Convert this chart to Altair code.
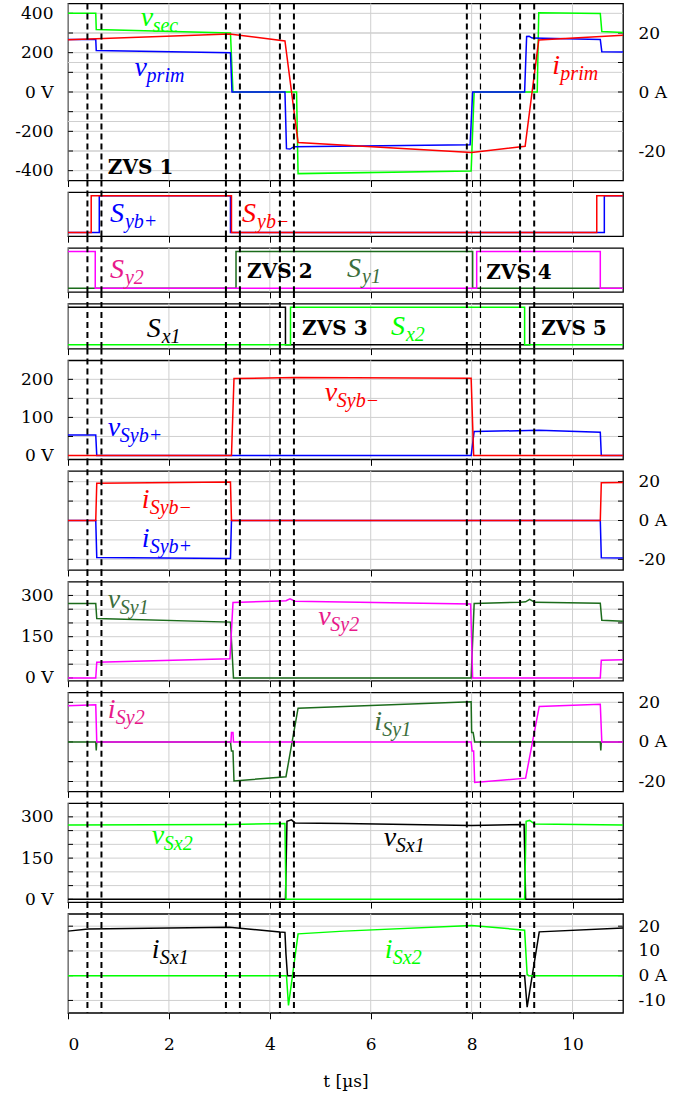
import altair as alt
import pandas as pd

W = 555
H = [177, 44, 44, 45, 99, 99, 99, 99, 99, 99]
GAP = 11.7

GREEN, BLUE, RED, MAG, DGREEN, BLACK = "#00ff00", "#0000ff", "#ff0000", "#ff00ff", "#1b6b1b", "#000000"
MAG_T, DG_T = "#e8198b", "#3c6e3c"
GRID = "#cfcfcf"
NUM_FONT = "DejaVu Serif"
MATH_FONT = "Liberation Serif"

x_ticks = [0, 2, 4, 6, 8, 10]
dash_t = [0.385, 0.663, 3.13, 3.407, 4.2, 4.478, 7.905, 8.96, 9.24]
thin_dash_t = [8.175]

# ---- panel 1 : primary / secondary voltage and primary current
vsec_t = [0, 0.55, 0.56, 3.22, 3.27, 4.53, 4.56, 7.99, 8.05, 9.30, 9.33, 10.55, 10.58, 11]
vsec_v = [400, 400, 318, 300, 0, 0, -415, -402, 0, 0, 403, 399, 308, 303]
vprim_t = [0, 0.55, 0.56, 3.22, 3.25, 4.30, 4.33, 4.40, 4.48, 7.97, 8.02, 9.05, 9.09, 9.14, 9.20, 10.55, 10.58, 11]
vprim_v = [267, 267, 211, 200, 0, 0, -288, -290, -278, -268, 0, 0, 282, 283, 274, 267, 205, 204]
iprim_t = [0, 3.2, 4.3, 4.56, 8.0, 9.06, 9.33, 11]
iprim_v = [17.7, 19.7, 17.3, -17.1, -20.5, -18.4, 17.6, 19.2]

# ---- panels 2-4 : gate signals
sybp_t = [0, 0.62, 0.62, 3.22, 3.22, 10.63, 10.63, 11]
sybp_v = [0, 0, 1, 1, 0, 0, 1, 1]
sybm_t = [0, 0.46, 0.46, 3.24, 3.24, 10.48, 10.48, 11]
sybm_v = [0, 0, 1, 1, 0, 0, 1, 1]
sy1_t = [0, 3.33, 3.33, 8.02, 8.02, 11]
sy1_v = [0, 0, 1, 1, 0, 0]
sy2_t = [0, 0.54, 0.54, 8.10, 8.10, 10.55, 10.55, 11]
sy2_v = [1, 1, 0, 0, 1, 1, 0, 0]
sx1_t = [0, 4.31, 4.31, 9.15, 9.15, 11]
sx1_v = [1, 1, 0, 0, 1, 1]
sx2_t = [0, 4.41, 4.41, 9.05, 9.05, 11]
sx2_v = [0, 0, 1, 1, 0, 0]

# ---- panel 5 : v_Syb
vsybp_t = [0, 0.55, 0.57, 7.99, 8.05, 9.33, 10.55, 10.57, 11]
vsybp_v = [54, 54, 0, 0, 63, 66, 61, 0, 0]
vsybm_t = [0, 3.24, 3.29, 4.5, 7.99, 8.04, 11]
vsybm_v = [0, 0, 202, 205, 203, 0, 0]

# ---- panel 6 : i_Syb
isyb_t = [0, 0.55, 0.57, 3.22, 3.24, 10.55, 10.57, 11]
isybp_v = [0, 0, -19, -19.6, 0, 0, -19.2, -19.3]
isybm_v = [0, 0, 19.2, 19.8, 0, 0, 19.5, 19.6]

# ---- panel 7 : v_Sy
vsy1_t = [0, 0.55, 0.57, 3.22, 3.28, 7.99, 8.05, 8.96, 9.07, 9.15, 9.25, 10.55, 10.58, 11]
vsy1_v = [271, 271, 216, 203, 0, 0, 271, 275, 277, 286, 275, 272, 210, 206]
vsy2_t = [0, 0.55, 0.57, 3.21, 3.27, 4.2, 4.32, 4.4, 4.5, 7.98, 8.02, 10.55, 10.57, 11]
vsy2_v = [0, 0, 57, 70, 274, 280, 281, 288, 279, 269, 0, 0, 64, 66]

# ---- panel 8 : i_Sy
isy1_t = [0, 0.55, 0.56, 0.57, 3.22, 3.24, 3.27, 3.29, 4.32, 4.56, 5.47, 7.99, 8.0, 8.03, 8.06, 10.55, 10.56, 10.57, 11]
isy1_v = [0, 0, -4.3, 0, 0, -4.6, -4.6, -19.7, -17.6, 17, 17.9, 20.3, 4.8, 4.8, 0, 0, -4.3, 0, 0]
isy2_t = [0, 0.55, 0.57, 3.23, 3.24, 3.27, 3.28, 7.99, 8.01, 8.04, 8.06, 9.07, 9.34, 10.55, 10.58, 11]
isy2_v = [18.3, 18.7, 0, 0, 4.8, 4.8, 0, 0, -4.6, -4.6, -20.5, -18.3, 17.9, 19, 0, 0]

# ---- panel 9 : v_Sx
vsx1_t = [0, 4.31, 4.34, 4.43, 4.5, 5.47, 8.0, 9.04, 9.07, 11]
vsx1_v = [0, 0, 284, 289, 278, 276, 269, 272, 0, 0]
vsx2_t = [0, 3.2, 4.3, 4.32, 9.05, 9.08, 9.15, 9.25, 11]
vsx2_v = [270, 272, 276, 0, 0, 284, 287, 274, 270]

# ---- panel 10 : i_Sx
isx1_t = [0, 0.4, 2, 3.2, 4.2, 4.3, 4.32, 4.35, 9.05, 9.1, 9.34, 11]
isx1_v = [18, 18.9, 19.3, 19.6, 17.6, 17.5, 8.7, 0, 0, -12.7, 17.7, 19.3]
isx2_t = [0, 4.33, 4.37, 4.56, 5.47, 8.0, 9.05, 9.1, 9.13, 11]
isx2_v = [0, 0, -12, 16.9, 18, 20.3, 18.4, 0.5, 0, 0]

# ---- y tick values
p1_vticks = [-400, -300, -200, -100, 0, 100, 200, 300, 400]
p1_iticks = [-20, -10, 0, 10, 20]
p5_ticks = [0, 50, 100, 150, 200]
i_ticks = [-20, -10, 0, 10, 20]
vsy_ticks = [0, 50, 100, 150, 200, 250, 300]
p10_ticks = [-10, 0, 10, 20]

# ---- labels: (main, sub, t, y, color)
p1_labels = [("v", "sec", 1.44, 338, GREEN), ("v", "prim", 1.32, 83, BLUE), ("i", "prim", 9.60, 93, RED)]
p2_labels = [("S", "yb+", 0.83, 0.30, BLUE), ("S", "yb−", 3.45, 0.30, RED)]
p3_labels = [("S", "y2", 0.83, 0.28, MAG_T), ("S", "y1", 5.53, 0.32, DG_T)]
p4_labels = [("S", "x1", 1.56, 0.20, BLACK), ("S", "x2", 6.40, 0.25, GREEN)]
p5_labels = [("v", "Syb+", 0.79, 52, BLUE), ("v", "Syb−", 5.09, 144, RED)]
p6_labels = [("i", "Syb−", 1.46, 6.2, RED), ("i", "Syb+", 1.46, -13.6, BLUE)]
p7_labels = [("v", "Sy1", 0.79, 254, DG_T), ("v", "Sy2", 4.96, 194, MAG_T)]
p8_labels = [("i", "Sy2", 0.79, 12, MAG_T), ("i", "Sy1", 6.07, 6.2, DG_T)]
p9_labels = [("v", "Sx2", 1.66, 200, GREEN), ("v", "Sx1", 6.26, 194, BLACK)]
p10_labels = [("i", "Sx1", 1.66, 7.3, BLACK), ("i", "Sx2", 6.28, 7.3, GREEN)]
zvs_p1 = [("ZVS 1", 0.79, -416)]
zvs_p3 = [("ZVS 2", 3.55, 0.27), ("ZVS 4", 8.29, 0.26)]
zvs_p4 = [("ZVS 3", 4.64, 0.27), ("ZVS 5", 9.38, 0.27)]

SUB_DX = {"v": 12, "S": 15, "i": 8}

xs = alt.Scale(domain=[0, 11], nice=False, zero=False)


def sc(lo, hi):
    return alt.Scale(domain=[lo, hi], nice=False, zero=False)


def X(field):
    return alt.X(field, scale=xs, axis=None)


def Y(field, ys):
    return alt.Y(field, scale=ys, axis=None)


def line(t, v, color, ys):
    df = pd.DataFrame({"t": t, "v": v, "o": list(range(len(t)))})
    return alt.Chart(df).mark_line(color=color, strokeWidth=1.5).encode(
        x=X("t:Q"), y=Y("v:Q", ys), order="o:Q")


def labels(rows, ys):
    out = []
    df = pd.DataFrame(rows, columns=["main", "sub", "t", "y", "color"])
    out.append(alt.Chart(df).mark_text(align="left", baseline="alphabetic", font=MATH_FONT,
                                       fontStyle="italic", fontSize=28).encode(
        x=X("t:Q"), y=Y("y:Q", ys),
        color=alt.Color("color:N", scale=None), text="main:N"))
    for letter, dx in SUB_DX.items():
        sub = df[df["main"] == letter]
        if len(sub) == 0:
            continue
        out.append(alt.Chart(sub).mark_text(align="left", baseline="alphabetic", font=MATH_FONT,
                                            fontStyle="italic", fontSize=20, dx=dx, dy=6).encode(
            x=X("t:Q"), y=Y("y:Q", ys),
            color=alt.Color("color:N", scale=None), text="sub:N"))
    return out


def zvs(rows, ys):
    df = pd.DataFrame(rows, columns=["txt", "t", "y"])
    return alt.Chart(df).mark_text(align="left", baseline="alphabetic", font=NUM_FONT,
                                   fontWeight="bold", fontSize=20, color="black").encode(
        x=X("t:Q"), y=Y("y:Q", ys), text="txt:N")


def yaxis(orient, values, expr):
    return alt.Axis(orient=orient, values=values, grid=False, ticks=False, domain=False,
                    labelExpr=expr, labelPadding=15, title=None, labelOverlap=False,
                    labelAlign="right" if orient == "left" else "left")


def ticks(values, ys, side, yax=None):
    df = pd.DataFrame({"yv": values})
    x0, x1 = (0, 5) if side == "left" else (W - 5, W)
    return alt.Chart(df).mark_rule(color="black", strokeWidth=1).encode(
        y=alt.Y("yv:Q", scale=ys, axis=yax), x=alt.value(x0), x2=alt.value(x1))


def hgrid(values, ys):
    df = pd.DataFrame({"yv": values})
    return alt.Chart(df).mark_rule(color=GRID, strokeWidth=1).encode(
        y=Y("yv:Q", ys), x=alt.value(0), x2=alt.value(W))


def dashes(h, top):
    d1 = alt.Chart(pd.DataFrame({"t": dash_t})).mark_rule(
        color="black", strokeWidth=2, strokeDash=[6, 4]).encode(
        x=X("t:Q"), y=alt.value(top), y2=alt.value(h))
    d2 = alt.Chart(pd.DataFrame({"t": thin_dash_t})).mark_rule(
        color="black", strokeWidth=1.2, strokeDash=[6, 4]).encode(
        x=X("t:Q"), y=alt.value(top), y2=alt.value(h))
    return [d1, d2]


def panel(i, layers, grids=(), bottom=False, independent=False):
    h = H[i]
    if bottom:
        xaxis = alt.Axis(values=x_ticks, grid=False, labels=True, ticks=True, tickSize=6,
                         domain=False, title="t [µs]", labelPadding=18, titlePadding=21,
                         titleFont=NUM_FONT, titleFontSize=17, titleFontWeight="normal")
    else:
        xaxis = alt.Axis(values=x_ticks, grid=False, labels=False, ticks=True, tickSize=6,
                         domain=False, title=None)
    carrier = alt.Chart(pd.DataFrame({"t": x_ticks})).mark_point(opacity=0).encode(
        x=alt.X("t:Q", scale=xs, axis=xaxis))
    vgrid = alt.Chart(pd.DataFrame({"t": x_ticks})).mark_rule(color=GRID, strokeWidth=1).encode(
        x=X("t:Q"), y=alt.value(0), y2=alt.value(h))
    top = 0 if i == 0 else -GAP
    ch = alt.layer(carrier, vgrid, *grids, *layers, *dashes(h, top)).properties(width=W, height=h)
    if independent:
        ch = ch.resolve_scale(y="independent")
    ch = ch.resolve_axis(x="independent", y="independent")
    return ch


# scales
y1v, y1i = sc(-450, 450), sc(-30, 30)
ysw = sc(-0.1, 1.1)
y5, y6, y7, y8, y9, y10 = sc(-10, 250), sc(-25.5, 25.5), sc(-10, 350), sc(-25, 25), sc(-10, 350), sc(-15, 25)

E_V200 = "datum.value == 0 ? '0 V' : (datum.value % 200 == 0 ? '' + datum.value : '')"
E_V100 = "datum.value == 0 ? '0 V' : (datum.value % 100 == 0 ? '' + datum.value : '')"
E_V150 = "datum.value == 0 ? '0 V' : (datum.value % 150 == 0 ? '' + datum.value : '')"
E_A20 = "datum.value == 0 ? '0 A' : (datum.value % 20 == 0 ? '' + datum.value : '')"
E_A10 = "datum.value == 0 ? '0 A' : '' + datum.value"

p1 = panel(0, [
    ticks(p1_vticks, y1v, "left", yaxis("left", p1_vticks, E_V200)),
    ticks(p1_iticks, y1i, "right", yaxis("right", p1_iticks, E_A20)),
    line(vsec_t, vsec_v, GREEN, y1v),
    line(vprim_t, vprim_v, BLUE, y1v),
    line(iprim_t, iprim_v, RED, y1i),
    *labels(p1_labels, y1v),
    zvs(zvs_p1, y1v),
], grids=(hgrid(p1_vticks, y1v), hgrid(p1_iticks, y1i)), independent=True)

p2 = panel(1, [
    line(sybp_t, sybp_v, BLUE, ysw),
    line(sybm_t, sybm_v, RED, ysw),
    *labels(p2_labels, ysw),
])

p3 = panel(2, [
    line(sy1_t, sy1_v, DGREEN, ysw),
    line(sy2_t, sy2_v, MAG, ysw),
    *labels(p3_labels, ysw),
    zvs(zvs_p3, ysw),
])

p4 = panel(3, [
    line(sx1_t, sx1_v, BLACK, ysw),
    line(sx2_t, sx2_v, GREEN, ysw),
    *labels(p4_labels, ysw),
    zvs(zvs_p4, ysw),
])

p5 = panel(4, [
    ticks(p5_ticks, y5, "left", yaxis("left", p5_ticks, E_V100)),
    ticks(p5_ticks, y5, "right"),
    line(vsybp_t, vsybp_v, BLUE, y5),
    line(vsybm_t, vsybm_v, RED, y5),
    *labels(p5_labels, y5),
], grids=(hgrid(p5_ticks, y5),))

p6 = panel(5, [
    ticks(i_ticks, y6, "right", yaxis("right", i_ticks, E_A20)),
    ticks(i_ticks, y6, "left"),
    line(isyb_t, isybp_v, BLUE, y6),
    line(isyb_t, isybm_v, RED, y6),
    *labels(p6_labels, y6),
], grids=(hgrid(i_ticks, y6),))

p7 = panel(6, [
    ticks(vsy_ticks, y7, "left", yaxis("left", vsy_ticks, E_V150)),
    ticks(vsy_ticks, y7, "right"),
    line(vsy1_t, vsy1_v, DGREEN, y7),
    line(vsy2_t, vsy2_v, MAG, y7),
    *labels(p7_labels, y7),
], grids=(hgrid(vsy_ticks, y7),))

p8 = panel(7, [
    ticks(i_ticks, y8, "right", yaxis("right", i_ticks, E_A20)),
    ticks(i_ticks, y8, "left"),
    line(isy1_t, isy1_v, DGREEN, y8),
    line(isy2_t, isy2_v, MAG, y8),
    *labels(p8_labels, y8),
], grids=(hgrid(i_ticks, y8),))

p9 = panel(8, [
    ticks(vsy_ticks, y9, "left", yaxis("left", vsy_ticks, E_V150)),
    ticks(vsy_ticks, y9, "right"),
    line(vsx1_t, vsx1_v, BLACK, y9),
    line(vsx2_t, vsx2_v, GREEN, y9),
    *labels(p9_labels, y9),
], grids=(hgrid(vsy_ticks, y9),))

p10 = panel(9, [
    ticks(p10_ticks, y10, "right", yaxis("right", p10_ticks, E_A10)),
    ticks(p10_ticks, y10, "left"),
    line(isx1_t, isx1_v, BLACK, y10),
    line(isx2_t, isx2_v, GREEN, y10),
    *labels(p10_labels, y10),
], grids=(hgrid(p10_ticks, y10),), bottom=True)

chart = alt.vconcat(p1, p2, p3, p4, p5, p6, p7, p8, p9, p10, spacing=GAP, bounds="flush").properties(
    padding={"left": 14, "top": 1.5, "right": 5, "bottom": 5}
).configure_view(
    stroke="black", strokeWidth=1.3
).configure_axis(
    tickColor="black", labelColor="black",
    labelFont=NUM_FONT, labelFontSize=17, titleColor="black"
)

chart.save("out.html", embed_options={"renderer": "svg", "actions": False})
